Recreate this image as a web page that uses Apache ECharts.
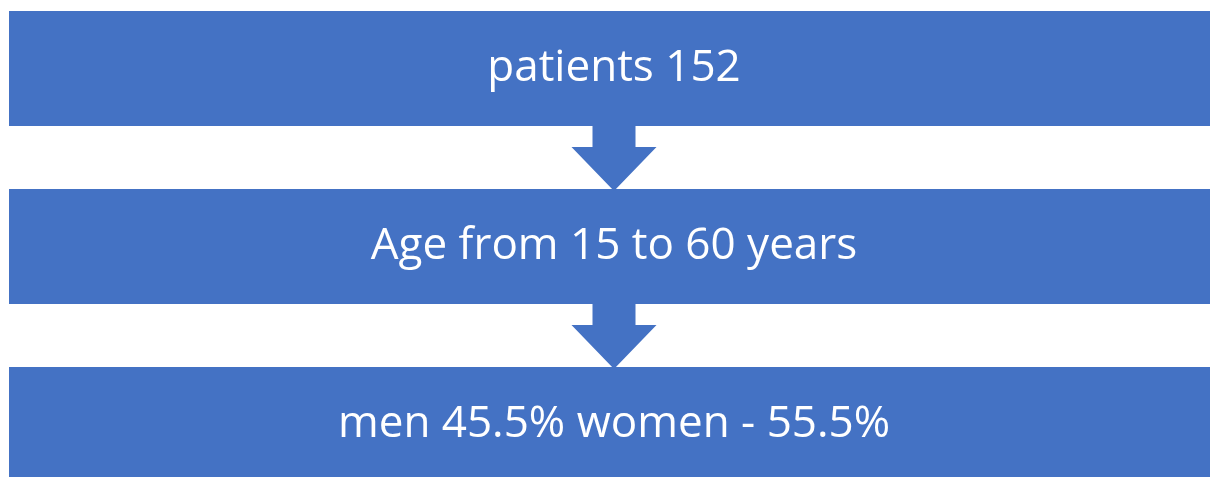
<!DOCTYPE html>
<html>
<head>
<meta charset="utf-8">
<script src="https://cdn.jsdelivr.net/npm/echarts@6/dist/echarts.min.js"></script>
<style>
html,body{margin:0;padding:0;background:#fff;}
#chart{width:1210px;height:477px;}
</style>
</head>
<body>
<div id="chart"></div>
<script>
var steps = ['patients 152', 'Age from 15 to 60 years', 'men 45.5% women - 55.5%'];
var stepIndex = [0, 1, 2];
var arrowsAfter = [0, 1];

var BLUE = '#4472C4';
var BOX_H = 115;

var chart = echarts.init(document.getElementById('chart'));
chart.setOption({
  animation: false,
  backgroundColor: '#ffffff',
  grid: { left: 0, right: 0, top: 0, bottom: 0, containLabel: false },
  xAxis: { type: 'value', min: -0.00744, max: 0.99256, show: false },
  yAxis: { type: 'value', min: -0.3848, max: 2.2949, inverse: true, show: false },
  series: [
    {
      type: 'custom',
      silent: true,
      data: stepIndex,
      encode: { y: 0 },
      renderItem: function (params, api) {
        var i = api.value(0);
        var l = api.coord([0, i]);
        var r = api.coord([1, i]);
        var m = api.coord([0.5, i]);
        return {
          type: 'group',
          children: [
            {
              type: 'rect',
              shape: { x: l[0], y: l[1] - BOX_H / 2, width: r[0] - l[0], height: BOX_H },
              style: { fill: BLUE }
            },
            {
              type: 'text',
              style: {
                x: m[0], y: m[1],
                text: steps[i],
                fill: '#ffffff',
                fontFamily: 'Open Sans',
                fontSize: 44,
                align: 'center',
                verticalAlign: 'middle'
              }
            }
          ]
        };
      }
    },
    {
      type: 'custom',
      silent: true,
      data: arrowsAfter,
      encode: { y: 0 },
      renderItem: function (params, api) {
        var i = api.value(0);
        var c0 = api.coord([0.5, i]);
        var c1 = api.coord([0.5, i + 1]);
        var cx = c0[0];
        var top = c0[1] + BOX_H / 2;
        var tip = c1[1] - BOX_H / 2 + 2;
        var shaftBottom = top + 21;
        var sw = 21.5, hw = 42.5;
        return {
          type: 'polygon',
          shape: {
            points: [
              [cx - sw, top - 1], [cx + sw, top - 1], [cx + sw, shaftBottom],
              [cx + hw, shaftBottom], [cx, tip], [cx - hw, shaftBottom],
              [cx - sw, shaftBottom]
            ]
          },
          style: { fill: BLUE }
        };
      }
    }
  ]
});
</script>
</body>
</html>
